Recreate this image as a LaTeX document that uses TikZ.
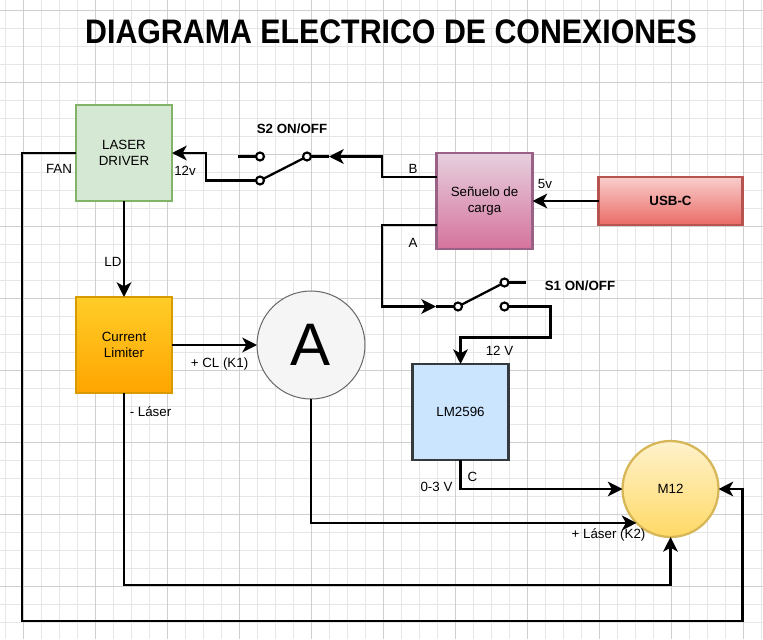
\documentclass[tikz,border=0pt]{standalone}
\usepackage{xcolor}
\usepackage{fontspec}
\setmainfont{Liberation Sans}
\newfontfamily\titlefont[FakeStretch=0.892]{Liberation Sans}
\usetikzlibrary{arrows.meta, positioning, calc}
\definecolor{clrGridMinor}{HTML}{E6E6E6}
\definecolor{clrGridMajor}{HTML}{CFCFCF}
\definecolor{clrGreenLight}{HTML}{D5E8D4}
\definecolor{clrGreenDark}{HTML}{82B366}
\definecolor{clrOrangeTop}{HTML}{FFCD28}
\definecolor{clrOrangeLow}{HTML}{FFA500}
\definecolor{clrOrangeDark}{HTML}{D79B00}
\definecolor{clrGrayLight}{HTML}{F5F5F5}
\definecolor{clrGrayDark}{HTML}{666666}
\definecolor{clrPinkTop}{HTML}{E6D0DE}
\definecolor{clrPinkLow}{HTML}{D5739D}
\definecolor{clrPinkDark}{HTML}{996185}
\definecolor{clrRedTop}{HTML}{F8CECC}
\definecolor{clrRedLow}{HTML}{EA6B66}
\definecolor{clrRedDark}{HTML}{B85450}
\definecolor{clrBlueLight}{HTML}{CCE5FF}
\definecolor{clrBlueDark}{HTML}{36393D}
\definecolor{clrYellowTop}{HTML}{FFF2CC}
\definecolor{clrYellowLow}{HTML}{FFD966}
\definecolor{clrYellowDark}{HTML}{D6B656}
\tikzset{
  txt small/.style={font=\fontsize{10}{12}\selectfont},
  blk box/.style={rectangle, draw, line width=1.7pt, minimum size=72pt, inner sep=0pt, outer sep=0pt, align=center, txt small},
  blk circle/.style={circle, draw, line width=1.7pt, minimum size=72pt, inner sep=0pt, outer sep=0pt, align=center, txt small},
  driver box/.style={blk box, fill=clrGreenLight, draw=clrGreenDark},
  limiter box/.style={blk box, top color=clrOrangeTop, bottom color=clrOrangeLow, draw=clrOrangeDark},
  senuelo box/.style={blk box, top color=clrPinkTop, bottom color=clrPinkLow, draw=clrPinkDark},
  usb box/.style={blk box, minimum width=108pt, minimum height=36pt, top color=clrRedTop, bottom color=clrRedLow, draw=clrRedDark, font=\fontsize{10}{12}\selectfont\bfseries},
  lm box/.style={blk box, fill=clrBlueLight, draw=clrBlueDark},
  motor circle/.style={blk circle, top color=clrYellowTop, bottom color=clrYellowLow, draw=clrYellowDark},
  amp circle/.style={circle, draw=clrGrayDark, fill=clrGrayLight, line width=0.75pt, minimum size=81pt, inner sep=0pt, outer sep=0pt, font=\fontsize{45}{50}\selectfont},
  term/.style={circle, draw, fill=white, line width=1.6pt, minimum size=6pt, inner sep=0pt, outer sep=0pt},
  lbl/.style={inner sep=0pt, txt small},
  lbl bold/.style={inner sep=0pt, font=\fontsize{10}{12}\selectfont\bfseries},
  arr/.style={-{Stealth[length=11pt, width=11pt, inset=3pt]}, line width=1.7pt},
  wire/.style={line width=1.7pt},
}
\begin{document}
\begin{tikzpicture}[x=0.75pt, y=-0.75pt]
  \useasboundingbox (0,0) rectangle (763,639);
  \fill[white] (0,0) rectangle (763,639);

  % Grid
  \foreach \x in {5.5,23.5,...,761.5} \draw[clrGridMinor, line width=0.75pt] (\x,0) -- (\x,639);
  \foreach \y in {10,28,...,622} \draw[clrGridMinor, line width=0.75pt] (0,\y) -- (763,\y);
  \foreach \x in {23.5,95.5,...,743.5} \draw[clrGridMajor, line width=0.75pt] (\x,0) -- (\x,639);
  \foreach \y in {10,82,...,586} \draw[clrGridMajor, line width=0.75pt] (0,\y) -- (763,\y);

  % Title
  \node[inner sep=0pt, font=\fontsize{25.5}{30}\titlefont\bfseries] (TITLE) at (391,32) {DIAGRAMA ELECTRICO DE CONEXIONES};

  % Blocks
  \node[driver box] (DRIVER) at (124,153) {LASER\\DRIVER};
  \node[limiter box, below=72pt of DRIVER] (LIMITER) {Current\\Limiter};
  \node[amp circle, right=63.75pt of LIMITER] (AMP) {A};
  \node[senuelo box] (SENUELO) at (484.5,201) {Señuelo de\\carga};
  \node[usb box, right=49.5pt of SENUELO] (USB) {USB-C};
  \node[lm box] (LM) at (460.5,412) {LM2596};
  \node[motor circle] (MOTOR) at (670.5,489) {M12};

  % Switch S2
  \coordinate (S2Aend) at (238,156.5);
  \coordinate (S2Bend) at (238,180.5);
  \coordinate (S2Cend) at (329,156.5);
  \node[term] (S2A) at (260,156.5) {};
  \node[term] (S2B) at (260,180.5) {};
  \node[term] (S2C) at (307,156.5) {};
  \draw[wire] (S2Aend) -- (S2A);
  \draw[wire] (S2Bend) -- (S2B);
  \draw[wire] (S2B) -- (S2C);
  \draw[wire] (S2C) -- (S2Cend);

  % Switch S1
  \coordinate (S1Aend) at (436,306.5);
  \coordinate (S1Bend) at (526,282.5);
  \node[term] (S1A) at (458,306.5) {};
  \node[term] (S1B) at (504.5,282.5) {};
  \node[term] (S1C) at (504.5,306.5) {};
  \draw[wire] (S1Aend) -- (S1A);
  \draw[wire] (S1A) -- (S1B);
  \draw[wire] (S1B) -- (S1Bend);

  % Connections
  \draw[arr] (USB) -- (SENUELO);
  \draw[arr] ($(SENUELO.north west)!0.25!(SENUELO.south west)$) -- (382,177) -- (382,156.5) -- (S2Cend);
  \draw[arr] (S2Bend) -- (206,180.5) -- (206,153) -- (DRIVER.east);
  \draw[arr] ($(SENUELO.north west)!0.75!(SENUELO.south west)$) -- (382,225) -- (382,306.5) -- (S1Aend);
  \draw[arr] (S1C) -- (550.5,306.5) -- (550.5,337.5) -- (460.5,337.5) -- (LM.north);
  \draw[arr] (DRIVER.south) -- (LIMITER.north);
  \draw[arr] (LIMITER.east) -- (AMP.west);
  \draw[arr] (LM.south) |- (MOTOR.west);
  \draw[arr] (AMP.south) |- (MOTOR.south west);
  \draw[arr] (LIMITER.south) -- (124,585) -- (670.5,585) -- (MOTOR.south);
  \draw[arr] (DRIVER.west) -- (22,153) -- (22,621) -- (742.5,621) -- (742.5,489) -- (MOTOR.east);

  % Labels
  \node[lbl bold] (lblS2) at (292,129) {S2 ON/OFF};
  \node[lbl bold] (lblS1) at (580,286) {S1 ON/OFF};
  \node[lbl] (lblFAN) at (59,169) {FAN};
  \node[lbl] (lblDoce) at (185,171) {12v};
  \node[lbl] (lblLD) at (113,262) {LD};
  \node[lbl] (lblCL) at (219.5,364) {+ CL (K1)};
  \node[lbl] (lblMenos) at (150.5,412) {- Láser};
  \node[lbl] (lblB) at (413,169) {B};
  \node[lbl] (lblA) at (413,243) {A};
  \node[lbl] (lblCinco) at (545,184) {5v};
  \node[lbl] (lblDoceV) at (499.5,351) {12 V};
  \node[lbl] (lblCero) at (436.5,487) {0-3 V};
  \node[lbl] (lblC) at (472.5,477) {C};
  \node[lbl] (lblMas) at (608.5,535) {+ Láser (K2)};
\end{tikzpicture}
\end{document}
